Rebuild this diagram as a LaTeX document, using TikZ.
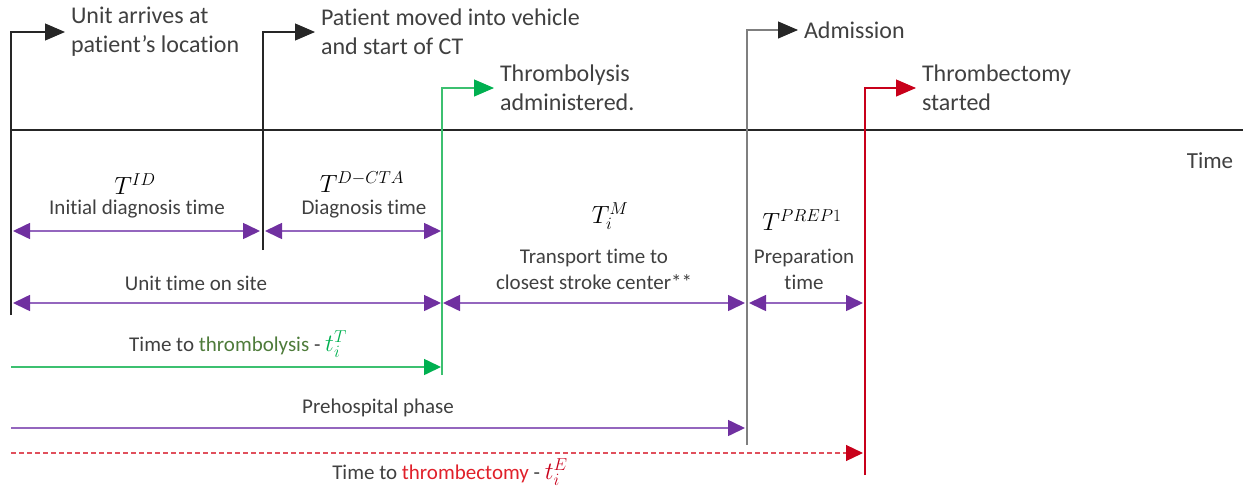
\documentclass[tikz,border=0pt]{standalone}
\usepackage{fontspec}
\setmainfont{Carlito}[Ligatures={NoCommon,NoRare}]
\usetikzlibrary{arrows.meta}
\definecolor{txt}{HTML}{404040}
\definecolor{ink}{HTML}{262626}
\definecolor{evgray}{HTML}{7F7F7F}
\definecolor{pur}{HTML}{7030A0}
\definecolor{purl}{HTML}{9466BE}
\definecolor{grn}{HTML}{00B050}
\definecolor{grnl}{HTML}{3CC070}
\definecolor{olive}{HTML}{4E7B3A}
\definecolor{rd}{HTML}{C8001A}
\definecolor{rdl}{HTML}{E0505C}
\definecolor{rdtxt}{HTML}{E0202A}
\tikzset{
  evt/.style={font=\fontsize{24}{29}\selectfont, text=txt, align=left, anchor=west, inner xsep=6pt, inner ysep=3pt, outer sep=0pt},
  lbl/.style={font=\fontsize{21}{26}\selectfont, text=txt, align=center, inner sep=0pt},
  mth/.style={font=\fontsize{25}{29}\selectfont, text=black, inner sep=0pt},
  evline/.style={line width=1.1pt, -{Triangle[length=20pt,width=17pt]}},
  span/.style={draw=purl, line width=1.6pt,
    {Triangle[length=17pt,width=16pt,color=pur]}-{Triangle[length=17pt,width=16pt,color=pur]}},
  oneway/.style={line width=1.6pt, -{Triangle[length=17pt,width=16pt,color=#1]}},
}
\begin{document}
\begin{tikzpicture}[x=1pt,y=-1pt]
\useasboundingbox (0,0) rectangle (1247,490);

% time axis
\coordinate (ax0) at (10,130);
\coordinate (ax1) at (1243,130);
\draw[ink, line width=2pt] (ax0) -- (ax1);
\node[lbl, font=\fontsize{23}{28}\selectfont] (time) at (1210,161) {Time};

% event markers
\coordinate (pA) at (11,315);
\coordinate (pB) at (263,250);
\coordinate (pG) at (442,375);
\coordinate (pH) at (747,445);
\coordinate (pR) at (865,475);

\node[evt] (eA) at (65,32) {Unit arrives at\\patient’s location};
\node[evt] (eB) at (315,32) {Patient moved into vehicle\\and start of CT};
\node[evt] (eG) at (494,88) {Thrombolysis\\administered.};
\node[evt] (eH) at (798,30) {Admission};
\node[evt] (eR) at (916,88) {Thrombectomy\\started};

\draw[evline, ink] (pA) |- (eA.west);
\draw[evline, ink] (pB) |- (eB.west);
\draw[evline, grnl, -{Triangle[length=20pt,width=17pt,color=grn]}] (pG) |- (eG.west);
\draw[evline, evgray, -{Triangle[length=20pt,width=17pt,color=ink]}] (pH) |- (eH.west);
\draw[evline, rd, -{Triangle[length=20pt,width=17pt,color=rd]}] (pR) |- (eR.west);

% first row of intervals
\coordinate (s1a) at (13,231);
\coordinate (s1b) at (260,231);
\coordinate (s1c) at (265,231);
\coordinate (s1d) at (441,231);
\draw[span] (s1a) -- (s1b);
\draw[span] (s1c) -- (s1d);
\node[mth] (tid) at (135,184) {$T^{ID}$};
\node[lbl] (lid) at (137,209) {Initial diagnosis time};
\node[mth] (tdc) at (362,182) {$T^{D-CTA}$};
\node[lbl] (ldc) at (364,209) {Diagnosis time};

% second row of intervals
\coordinate (s2a) at (13,303);
\coordinate (s2b) at (441,303);
\coordinate (s2c) at (443,303);
\coordinate (s2d) at (745,303);
\coordinate (s2e) at (749,303);
\coordinate (s2f) at (863,303);
\draw[span] (s2a) -- (s2b);
\draw[span] (s2c) -- (s2d);
\draw[span] (s2e) -- (s2f);
\node[lbl] (lsite) at (196,283) {Unit time on site};
\node[mth] (tm) at (610,216) {$T_i^M$};
\node[lbl] (ltr) at (594,269) {Transport time to\\closest stroke center**};
\node[mth] (tpr) at (802,220) {$T^{PREP1}$};
\node[lbl] (lpr) at (804,269) {Preparation\\time};

% cumulative times
\coordinate (g0) at (11,367);
\coordinate (g1) at (441,367);
\draw[oneway=grn, grnl] (g0) -- (g1);
\node[lbl] (lthl) at (238,344) {Time to \textcolor{olive}{thrombolysis} - {\color{grn}\fontsize{26}{26}\selectfont$t_i^T$}};

\coordinate (h0) at (11,428);
\coordinate (h1) at (745,428);
\draw[oneway=pur, purl] (h0) -- (h1);
\node[lbl] (lpre) at (378,408) {Prehospital phase};

\coordinate (r0) at (11,453);
\coordinate (r1) at (863,453);
\draw[oneway=rd, rdl, line width=1.2pt, dash pattern=on 5pt off 3pt] (r0) -- (r1);
\node[lbl] (lthe) at (450,472) {Time to \textcolor{rdtxt}{thrombectomy} - {\color{rd}\fontsize{26}{26}\selectfont$t_i^E$}};
\end{tikzpicture}
\end{document}
